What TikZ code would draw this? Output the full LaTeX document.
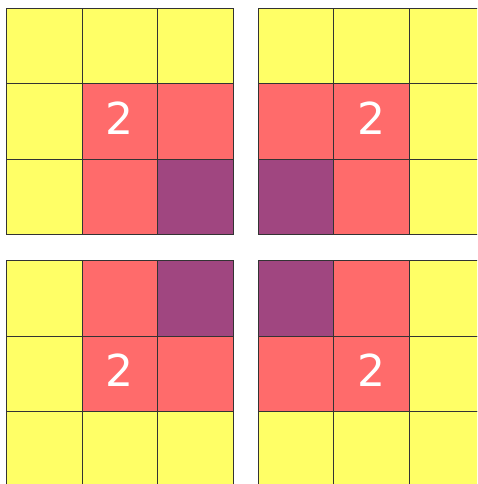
\documentclass[tikz,border=0pt]{standalone}
\usepackage{fontspec}
\setsansfont{DejaVu Sans}
\definecolor{cy}{HTML}{FFFF66}
\definecolor{cr}{HTML}{FF6B6B}
\definecolor{cp}{HTML}{A04680}
\definecolor{cl}{HTML}{333333}
\tikzset{
  cell/.style={draw=cl, line width=0.9pt, minimum size=75.6pt, inner sep=0pt, outer sep=0pt, anchor=north west},
  Y/.style={cell, fill=cy},
  R/.style={cell, fill=cr},
  P/.style={cell, fill=cp},
  num/.style={font=\sffamily\fontsize{44}{44}\selectfont, text=white, inner sep=0pt, yshift=3.5pt}
}
\begin{document}
\begin{tikzpicture}[x=1pt,y=-1pt]
\useasboundingbox (0,0) rectangle (477,484);
\clip (0,0) rectangle (477,484);
\foreach \g/\ox/\oy/\cols in {
  a/6.5/8/{Y,Y,Y,Y,R,R,Y,R,P},
  b/258/8/{Y,Y,Y,R,R,Y,P,R,Y},
  c/6.5/260.5/{Y,R,P,Y,R,R,Y,Y,Y},
  d/258/260.5/{P,R,Y,R,R,Y,Y,Y,Y}}{
  \foreach \c [count=\i from 0] in \cols {
    \pgfmathtruncatemacro{\r}{div(\i,3)}
    \pgfmathtruncatemacro{\k}{mod(\i,3)}
    \node[\c] (\g\i) at ({\ox+75.6*\k},{\oy+75.6*\r}) {};
  }
  \node[num] (\g n) at (\g4.center) {2};
}
\end{tikzpicture}
\end{document}
